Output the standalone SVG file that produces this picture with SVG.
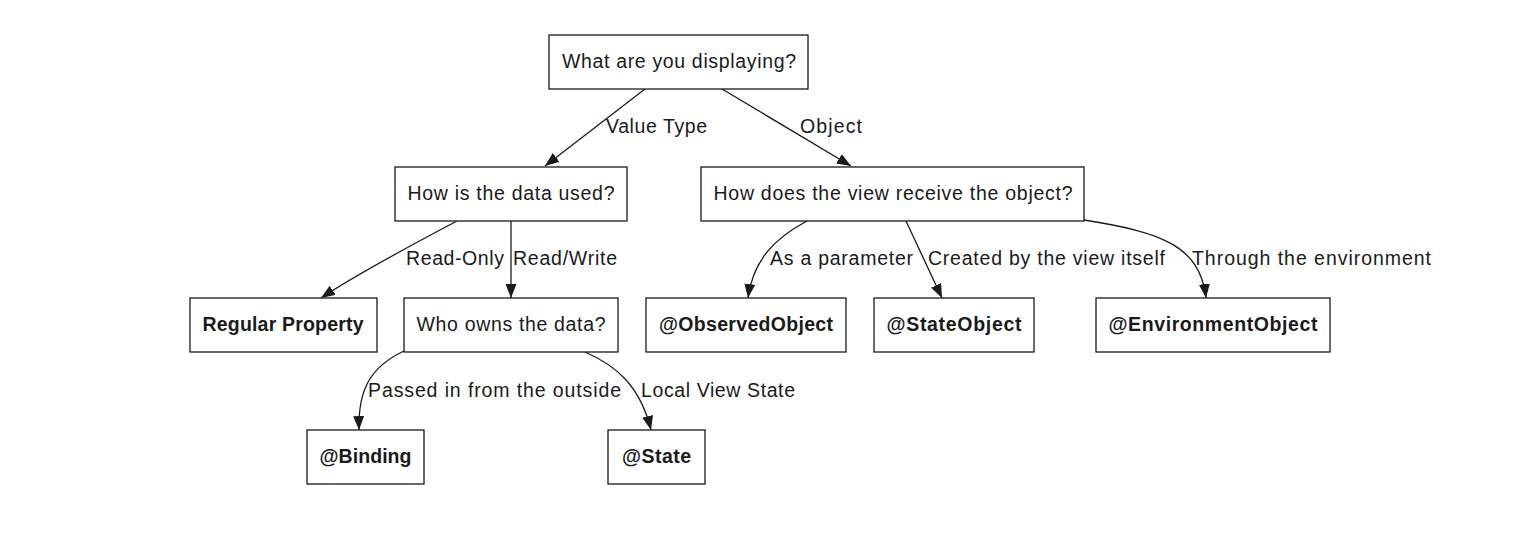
<svg xmlns="http://www.w3.org/2000/svg" width="1522" height="542" viewBox="0 0 1522 542">
<style>
.box{fill:#fff;stroke:#1a1a1a;stroke-width:1.3}
.t{font-family:"Liberation Sans",Arial,sans-serif;font-size:19.5px;fill:#1a1a1a;text-anchor:middle}
.b{font-weight:bold}
.l{font-family:"Liberation Sans",Arial,sans-serif;font-size:19.5px;fill:#1a1a1a}
.e{fill:none;stroke:#1a1a1a;stroke-width:1.3}
</style>
<defs>
<marker id="ah" markerUnits="userSpaceOnUse" markerWidth="15" markerHeight="12" refX="14" refY="5.5" orient="auto">
<path d="M0,0 L14,5.5 L0,11 z" fill="#1a1a1a"/>
</marker>
</defs>
<rect width="1522" height="542" fill="#fff"/>
<g id="connectors">
<path class="e" marker-end="url(#ah)" d="M645,89 L545,166"/>
<path class="e" marker-end="url(#ah)" d="M722,89 L851,166"/>
<path class="e" marker-end="url(#ah)" d="M457,221 C425,238 360,272 321,298"/>
<path class="e" marker-end="url(#ah)" d="M511,221 L511,298"/>
<path class="e" marker-end="url(#ah)" d="M807,221 C775,238 753,260 748,298"/>
<path class="e" marker-end="url(#ah)" d="M906,221 L942,298"/>
<path class="e" marker-end="url(#ah)" d="M1084,220 C1160,232 1200,245 1206,298"/>
<path class="e" marker-end="url(#ah)" d="M404,351 C370,367 358,390 359,430"/>
<path class="e" marker-end="url(#ah)" d="M585,352 C615,365 640,385 651,430"/>
<text class="l" x="606" y="133" textLength="101">Value Type</text>
<text class="l" x="800" y="133" textLength="62">Object</text>
<text class="l" x="406" y="265" textLength="98">Read-Only</text>
<text class="l" x="513" y="265" textLength="104">Read/Write</text>
<text class="l" x="770" y="265" textLength="143">As a parameter</text>
<text class="l" x="928" y="265" textLength="237">Created by the view itself</text>
<text class="l" x="1192" y="265" textLength="239">Through the environment</text>
<text class="l" x="368" y="397" textLength="253">Passed in from the outside</text>
<text class="l" x="641" y="397" textLength="154">Local View State</text>
</g>
<g id="n-root"><rect class="box" x="549" y="35" width="259" height="54"/><text class="t" x="679" y="68" textLength="234">What are you displaying?</text></g>
<g id="n-used"><rect class="box" x="395" y="167" width="232" height="54"/><text class="t" x="511" y="200" textLength="207">How is the data used?</text></g>
<g id="n-receive"><rect class="box" x="701" y="167" width="383" height="54"/><text class="t" x="893" y="200" textLength="359">How does the view receive the object?</text></g>
<g id="n-regular"><rect class="box" x="190" y="298" width="187" height="54"/><text class="t b" x="283" y="331" textLength="161">Regular Property</text></g>
<g id="n-owns"><rect class="box" x="404" y="298" width="214" height="54"/><text class="t" x="511" y="331" textLength="189">Who owns the data?</text></g>
<g id="n-observed"><rect class="box" x="646" y="298" width="200" height="54"/><text class="t b" x="746" y="331" textLength="174">@ObservedObject</text></g>
<g id="n-stateobject"><rect class="box" x="874" y="298" width="160" height="54"/><text class="t b" x="954" y="331" textLength="135">@StateObject</text></g>
<g id="n-env"><rect class="box" x="1096" y="298" width="234" height="54"/><text class="t b" x="1213" y="331" textLength="209">@EnvironmentObject</text></g>
<g id="n-binding"><rect class="box" x="307" y="430" width="117" height="54"/><text class="t b" x="365.5" y="463" textLength="92">@Binding</text></g>
<g id="n-state"><rect class="box" x="608" y="430" width="97" height="54"/><text class="t b" x="656.5" y="463" textLength="69">@State</text></g>
</svg>
